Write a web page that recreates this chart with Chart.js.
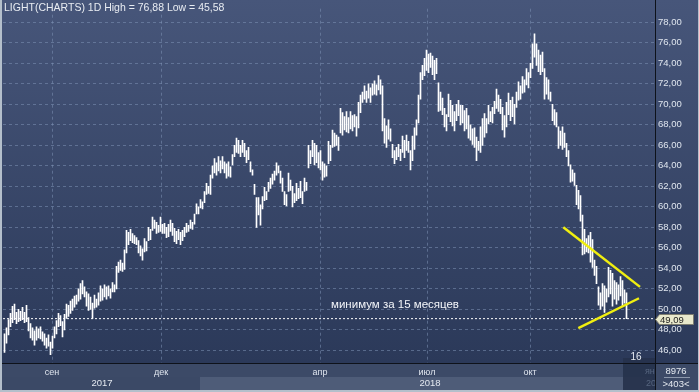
<!DOCTYPE html>
<html><head><meta charset="utf-8">
<script src="https://cdn.jsdelivr.net/npm/chart.js@4.4.0/dist/chart.umd.min.js"></script>
<style>html,body{margin:0;padding:0;background:#2e3c5a;overflow:hidden}</style>
</head><body>
<canvas id="c" width="699" height="392"></canvas>
<script>
// ---- data (daily high / low) ----
const highs = [
47.6,48.2,49.0,49.6,50.3,50.5,49.7,50.0,49.8,50.2,
49.7,50.4,49.2,48.6,48.2,47.9,48.3,48.1,48.3,47.8,
47.6,47.2,47.5,46.8,47.4,48.3,48.9,49.6,49.4,48.8,
49.5,50.5,50.4,50.8,51.0,51.3,51.4,52.0,52.5,52.8,
52.2,51.7,51.5,51.2,50.6,51.4,51.0,51.6,52.3,52.0,
52.4,52.2,52.3,52.0,52.6,52.4,54.2,54.6,54.8,54.5,
55.8,57.7,57.5,57.8,57.4,57.2,57.0,56.7,56.2,55.9,
56.9,56.6,58.0,57.8,59.0,58.7,58.5,58.2,59.0,58.3,
58.4,58.0,58.3,58.7,58.4,57.9,57.6,57.8,57.5,57.7,
58.0,58.4,58.2,58.7,58.5,59.3,60.3,60.0,60.7,60.5,
61.5,62.3,62.0,63.1,64.0,64.7,64.3,64.9,64.5,64.9,
64.4,64.2,64.4,63.9,65.1,66.0,66.7,66.5,66.0,66.5,
66.2,65.5,65.8,64.4,63.6,62.2,60.9,60.9,60.2,61.0,
61.9,61.5,62.4,62.8,63.2,63.5,64.3,64.0,63.5,62.8,
61.5,61.2,63.3,62.6,62.0,61.3,62.3,61.8,62.5,61.5,
62.8,62.4,66.0,65.5,66.5,66.2,66.0,65.3,65.5,64.4,
64.2,64.0,66.4,66.0,67.5,67.2,67.0,66.8,69.6,69.2,
68.8,69.3,68.7,69.3,68.9,69.0,68.8,70.2,70.9,71.2,
71.8,71.3,72.0,71.6,72.0,72.3,71.9,72.8,72.4,71.8,
68.6,67.9,68.5,67.6,66.1,65.5,65.8,66.1,65.6,66.9,
66.5,67.0,66.4,65.5,66.9,67.7,68.5,70.9,73.1,73.8,
74.5,75.3,74.9,75.0,74.7,74.3,74.5,72.1,71.2,70.6,
69.6,69.0,71.0,70.4,69.9,69.3,70.0,70.4,69.9,69.9,
69.4,69.6,68.9,68.0,67.6,67.7,66.8,66.4,67.8,68.6,
69.1,68.6,69.9,69.3,69.7,70.3,71.5,70.9,70.5,69.7,
68.9,70.2,71.1,70.4,70.7,70.0,71.2,72.2,71.8,72.7,
72.4,73.5,73.1,74.0,75.9,76.88,75.9,75.3,74.8,75.1,
73.5,72.6,72.4,71.2,70.0,69.5,69.2,67.8,67.4,67.8,
67.2,66.2,65.5,64.1,63.6,63.3,62.1,61.6,61.1,59.2,
57.8,56.9,57.2,57.5,56.8,54.8,54.2,52.2,51.6,52.5,
52.3,52.0,54.1,53.8,53.5,52.8,52.6,52.4,53.2,52.8,51.9,51.6
];
const lows = [
45.8,46.7,47.5,48.3,48.7,49.0,48.6,48.8,48.9,49.0,
48.7,48.8,47.9,47.2,47.0,46.5,47.0,47.2,47.1,46.9,
46.5,46.2,46.4,45.58,46.2,47.2,47.6,48.3,48.4,47.3,
48.0,49.1,49.3,49.6,49.9,50.2,50.5,50.8,51.0,51.5,
51.2,50.3,49.9,50.0,49.1,50.1,50.2,50.4,50.8,50.9,
51.2,51.0,51.3,51.1,51.7,51.7,52.0,53.6,53.8,53.7,
53.9,55.5,56.3,56.7,56.5,56.4,56.3,55.5,55.2,54.8,
55.6,55.7,56.7,56.8,57.7,57.9,57.4,57.5,57.6,57.4,
57.4,57.0,57.1,57.6,57.2,56.6,56.4,56.8,56.3,56.7,
57.1,57.5,57.6,57.9,57.8,58.3,59.3,59.3,59.9,59.8,
60.4,61.2,61.3,61.2,62.8,63.3,63.1,63.5,63.3,63.7,
63.3,62.8,63.0,62.9,64.1,64.9,65.3,65.2,64.9,65.3,
64.9,64.3,64.6,63.4,63.1,61.2,58.0,59.2,58.2,59.8,
60.6,60.7,61.5,61.8,62.2,62.6,63.1,63.3,62.3,61.5,
60.2,60.1,61.5,61.6,60.0,60.4,60.6,60.8,60.9,60.3,
61.5,61.6,63.8,64.2,64.9,64.1,64.3,63.8,63.6,62.6,
62.9,63.0,64.2,64.5,65.8,65.9,66.0,65.5,67.2,67.0,
67.5,67.3,67.2,67.6,67.4,67.8,66.9,67.7,69.2,70.2,
70.5,70.2,70.6,70.2,70.9,71.0,70.9,71.4,71.0,67.4,
66.2,65.8,66.6,66.4,64.8,64.2,64.6,64.9,64.5,65.3,
64.8,65.5,65.3,63.6,64.5,65.6,67.0,68.2,70.5,72.4,
72.8,73.3,73.1,73.6,72.9,72.4,73.0,69.3,69.4,69.0,
67.8,67.4,68.8,68.3,67.9,67.4,68.4,68.9,68.0,68.2,
67.4,67.6,66.7,66.5,66.1,65.8,64.5,65.5,65.3,66.0,
66.8,67.2,68.1,68.3,68.2,69.1,69.6,69.3,69.1,67.5,
66.8,67.8,69.0,68.4,68.8,68.1,69.7,70.4,70.5,71.1,
71.2,71.9,71.6,72.6,73.5,74.6,73.8,73.2,72.9,73.2,
70.5,71.0,70.5,70.3,68.4,68.0,67.8,65.7,66.0,65.6,
65.8,64.9,64.0,62.4,62.5,62.1,60.2,59.8,58.6,55.3,
55.4,55.6,55.5,54.6,54.1,53.3,52.5,50.4,50.0,50.3,
49.7,50.7,51.2,51.5,50.3,51.0,50.5,50.9,51.3,50.3,50.6,49.09
];
const monthLabels = ['сен','дек','апр','июл','окт'];
const monthIndex  = [23.75, 78.25, 157.75, 211.25, 262.75];
const yearLabels  = ['2017','2018'];
const yearStart   = [-0.75, 97.75];
const yearEnd     = [97.75, 324.0];
const minLevel    = 49.09;
const upperTrend  = [{x:279.4,y:58.0},{x:317.75,y:52.19}];
const lowerTrend  = [{x:286.9,y:48.16},{x:317.25,y:51.08}];
const titleText   = 'LIGHT(CHARTS) 1D High = 76,88 Low = 45,58';
const noteText    = 'минимум за 15 месяцев';
const levelText   = '49,09';

const fmt = v => v.toFixed(2).replace('.', ',');
const FONT = '"Liberation Sans", Arial, sans-serif';

const bars = highs.map((h, i) => ({x: i, y: [lows[i], h]}));
const X_MIN = -0.75, X_MAX = 325.25;

const deco = {
  id: 'deco',
  beforeDraw(chart) {
    const {ctx, chartArea: a, width: W, height: H} = chart;
    const xs = chart.scales.x;
    ctx.save();
    const g = ctx.createLinearGradient(0, 0, 0, a.bottom);
    g.addColorStop(0, '#47567a');
    g.addColorStop(1, '#2b3959');
    ctx.fillStyle = g;
    ctx.fillRect(0, 0, W, a.bottom);
    ctx.fillStyle = '#3c4a67';
    ctx.fillRect(0, a.bottom, W, H - a.bottom);
    const cols = ['#3b4966', '#4e5c78'];
    for (let k = 0; k < yearLabels.length; k++) {
      const x0 = k === 0 ? 0 : xs.getPixelForValue(yearStart[k]);
      const x1 = xs.getPixelForValue(yearEnd[k]);
      ctx.fillStyle = cols[k];
      ctx.fillRect(x0, a.bottom + 14, x1 - x0, 13);
    }
    ctx.restore();
  },
  afterDraw(chart) {
    const {ctx, chartArea: a, width: W, height: H} = chart;
    const xs = chart.scales.x, ys = chart.scales.y;
    ctx.save();
    ctx.fillStyle = 'rgba(38,50,76,0.92)';
    ctx.fillRect(623, a.bottom - 5, a.right - 623, H - a.bottom + 5);
    ctx.font = '9px ' + FONT;
    ctx.fillStyle = '#56657f';
    ctx.textBaseline = 'middle';
    ctx.textAlign = 'left';
    ctx.fillText('ян', 645, a.bottom + 9);
    ctx.fillText('20', 646, a.bottom + 21);
    ctx.fillStyle = '#e6ebf2';
    ctx.font = '10px ' + FONT;
    ctx.textAlign = 'center';
    ctx.fillText('16', 636, a.bottom - 6);

    ctx.fillStyle = '#0e121a';
    ctx.fillRect(0, a.bottom, W, 1);
    ctx.fillRect(a.right, 0, 1, H);

    ctx.font = '9.5px ' + FONT;
    ctx.fillStyle = '#e4e9f0';
    ctx.textAlign = 'center';
    const yc = [102, 430];
    for (let k = 0; k < yearLabels.length; k++) {
      ctx.fillText(yearLabels[k], yc[k], a.bottom + 20.5);
    }

    ctx.fillStyle = '#3c4a67';
    ctx.fillRect(a.right + 1, a.bottom + 1, W - a.right - 1, H - a.bottom - 1);
    ctx.fillStyle = '#e4e9f0';
    ctx.font = '9.5px ' + FONT;
    ctx.fillText('8976', 676, a.bottom + 8.5);
    ctx.fillText('>403<', 676, a.bottom + 21);
    ctx.fillStyle = '#8c98ac';
    ctx.fillRect(664, a.bottom + 14, 26, 1);

    ctx.textAlign = 'left';
    ctx.font = '10.5px ' + FONT;
    ctx.fillStyle = '#e8ecf2';
    ctx.fillText(titleText, 4, 8);

    const nx = xs.getPixelForValue(195.25), ny = ys.getPixelForValue(50.48);
    ctx.font = '11.5px ' + FONT;
    ctx.textAlign = 'center';
    ctx.fillStyle = '#f4f6fa';
    ctx.fillText(noteText, nx, ny);

    const py = Math.round(ys.getPixelForValue(minLevel)) + 0.5;
    ctx.beginPath();
    ctx.moveTo(a.right + 0.5, py);
    ctx.lineTo(a.right + 4.5, py - 5);
    ctx.lineTo(W - 5.5, py - 5);
    ctx.lineTo(W - 5.5, py + 5);
    ctx.lineTo(a.right + 4.5, py + 5);
    ctx.closePath();
    ctx.fillStyle = '#e9e9cc';
    ctx.fill();
    ctx.strokeStyle = '#7d7d70';
    ctx.lineWidth = 1;
    ctx.stroke();
    ctx.fillStyle = '#1c1c1c';
    ctx.font = '9.5px ' + FONT;
    ctx.textAlign = 'left';
    ctx.fillText(levelText, a.right + 5, py + 0.5);

    ctx.fillStyle = '#b4bfcb';
    ctx.fillRect(0, 0, 2, H);
    ctx.fillRect(0, H - 2, W, 2);
    ctx.fillRect(W - 1, 0, 1, H);
    ctx.restore();
  }
};

new Chart(document.getElementById('c'), {
  type: 'bar',
  data: {
    datasets: [
      {type: 'line', data: upperTrend, borderColor: '#f0ee10', borderWidth: 2.5, pointRadius: 0, tension: 0, order: 1},
      {type: 'line', data: lowerTrend, borderColor: '#f0ee10', borderWidth: 2.5, pointRadius: 0, tension: 0, order: 1},
      {type: 'line', data: [{x: X_MIN, y: minLevel}, {x: X_MAX, y: minLevel}], borderColor: '#ffffff', borderWidth: 1, borderDash: [2, 2], pointRadius: 0, order: 2},
      {type: 'bar', data: bars, backgroundColor: '#ffffff', borderWidth: 0, barThickness: 1, order: 3}
    ]
  },
  options: {
    responsive: false,
    animation: false,
    devicePixelRatio: 1,
    layout: {padding: {left: 3, right: 0, top: 0, bottom: 0}},
    plugins: {legend: {display: false}, tooltip: {enabled: false}},
    scales: {
      x: {
        type: 'linear', min: X_MIN, max: X_MAX, offset: false,
        grid: {color: 'rgba(125,145,180,0.55)', lineWidth: 1, drawTicks: false, offset: false},
        border: {display: false, dash: [3, 3]},
        afterBuildTicks: s => { s.ticks = monthIndex.map(v => ({value: v})); },
        afterFit: s => { s.height = 29; },
        ticks: {
          autoSkip: false, maxRotation: 0, padding: 4,
          color: '#dfe5ee', font: {family: FONT, size: 9},
          callback: (v, i) => monthLabels[i]
        }
      },
      y: {
        type: 'linear', position: 'right', min: 44.762, max: 79.333,
        grid: {color: 'rgba(125,145,180,0.55)', lineWidth: 1, drawTicks: false},
        border: {display: false, dash: [3, 3]},
        afterFit: s => { s.width = 44; },
        ticks: {
          stepSize: 2, includeBounds: false, padding: 3,
          color: '#dfe5ee', font: {family: FONT, size: 9.5},
          callback: v => fmt(v)
        }
      }
    }
  },
  plugins: [deco]
});
</script>
</body></html>
